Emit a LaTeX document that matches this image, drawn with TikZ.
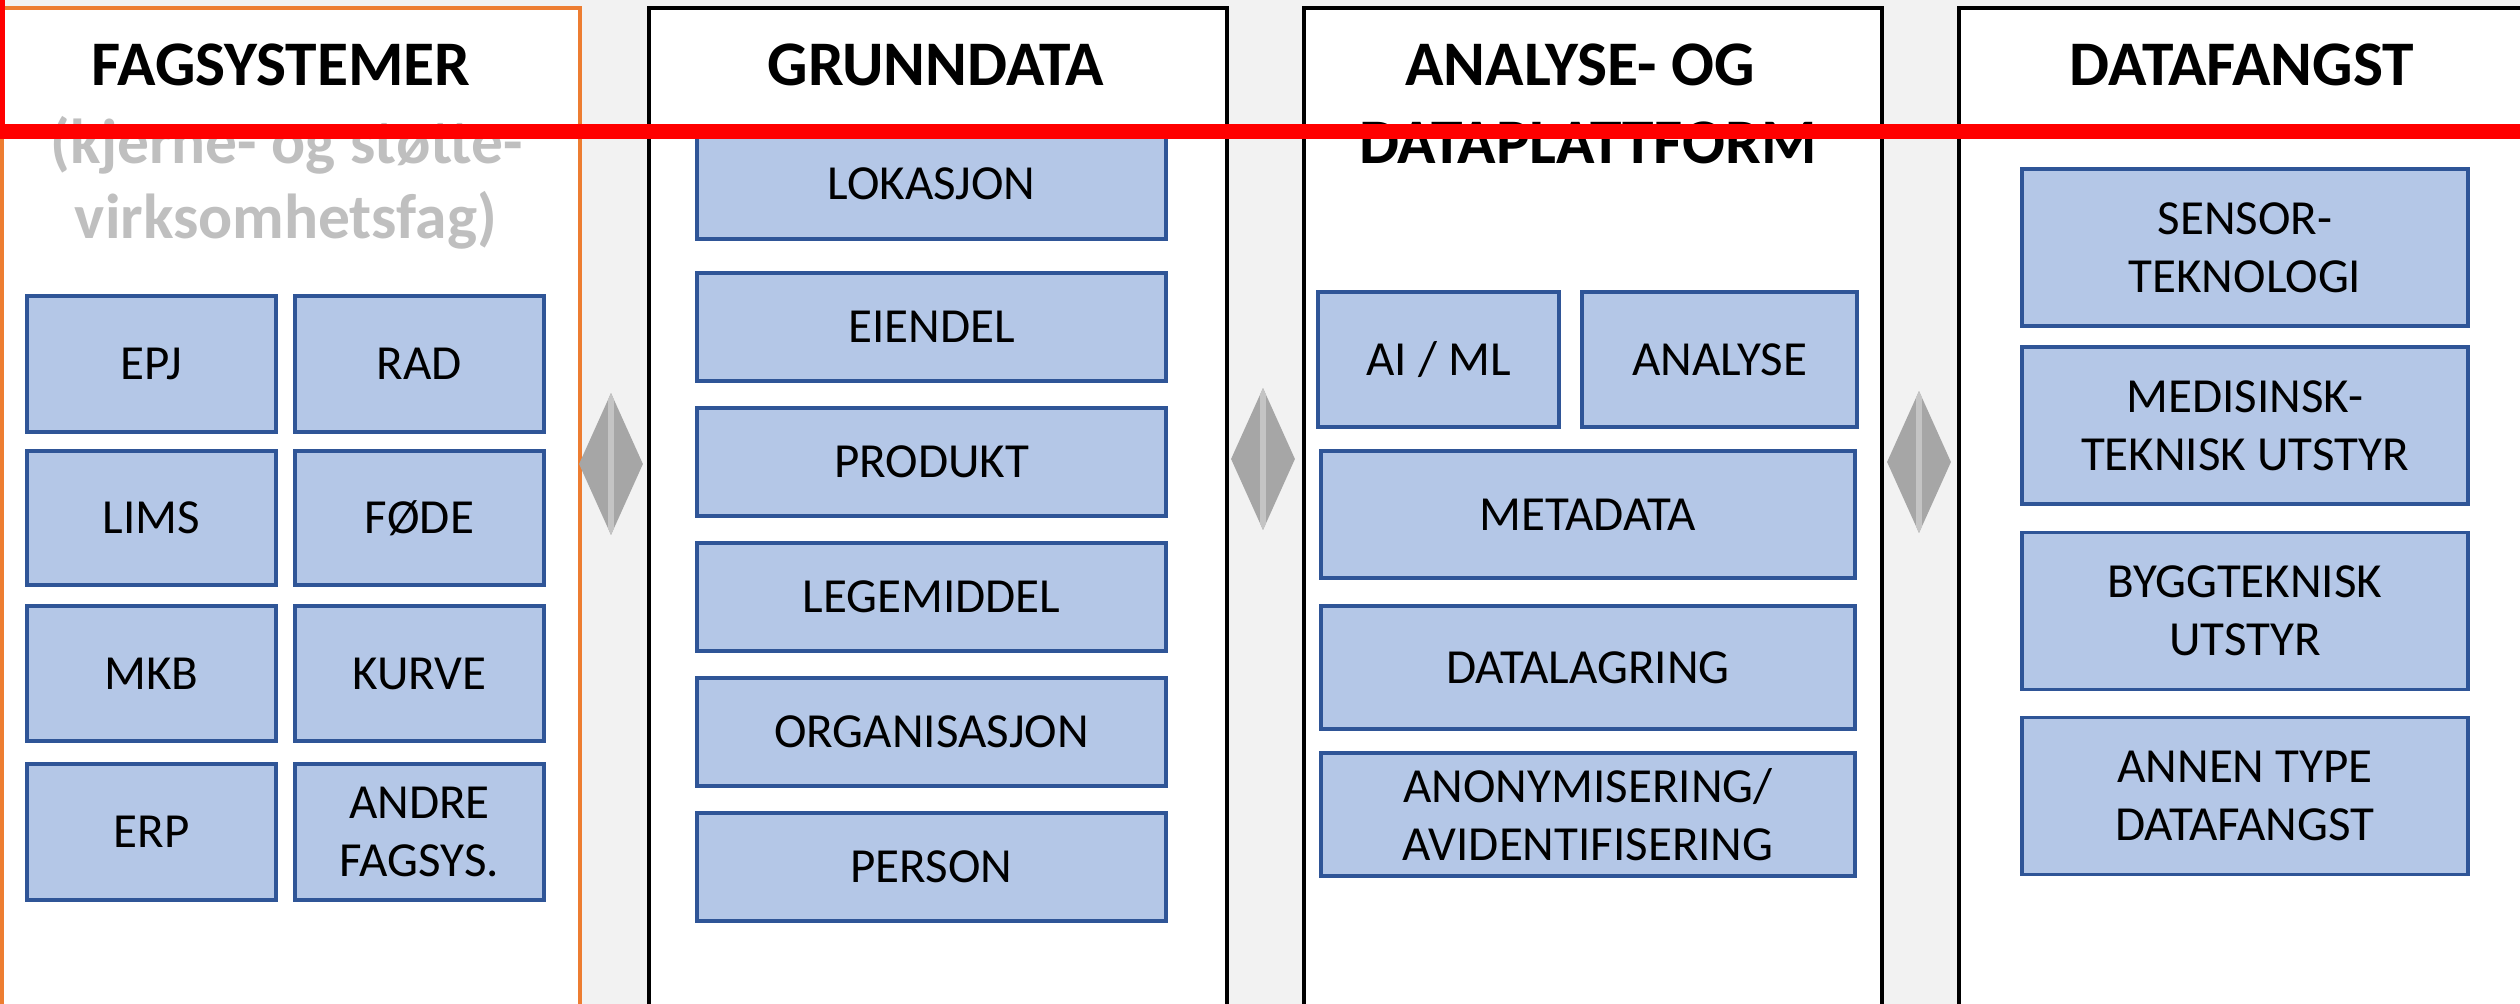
\documentclass[tikz,border=0pt]{standalone}
\usepackage{fontspec}
\setmainfont{Carlito}
\usetikzlibrary{shapes.geometric}
\definecolor{bgcol}{HTML}{F2F2F2}
\definecolor{orangecol}{HTML}{ED7D31}
\definecolor{boxfill}{HTML}{B4C7E7}
\definecolor{boxline}{HTML}{2F5597}
\definecolor{subgray}{HTML}{BFBFBF}
\definecolor{diagray}{HTML}{A6A6A6}
\definecolor{diastripe}{HTML}{C4C4C4}
\definecolor{markred}{HTML}{FF0000}
\tikzset{
  panel/.style={fill=white, line width=4pt, inner sep=0pt, anchor=north west, minimum height=1100pt},
  cell/.style={draw=boxline, fill=boxfill, line width=3.5pt, inner sep=0pt, align=center,
    font=\fontsize{49}{58}\selectfont, text=black},
  headtxt/.style={anchor=base, inner sep=0pt, font=\fontsize{63.5}{78}\selectfont\bfseries, text=black},
  subtxt/.style={headtxt, text=subgray},
  arrowdia/.style={diamond, fill=diagray, inner sep=0pt, minimum width=64pt, minimum height=142pt,
    path picture={\fill[diastripe] ([xshift=-3pt]path picture bounding box.north) rectangle ([xshift=3pt]path picture bounding box.south);}}
}
\begin{document}
\begin{tikzpicture}[x=1pt,y=-1pt]
\clip (0,0) rectangle (2520,1004);
\fill[bgcol] (0,0) rectangle (2520,1004);

% panels
\node[panel, draw=orangecol, minimum width=578pt] (p1) at (0,6) {};
\node[panel, draw=black, minimum width=578pt] (p2) at (647,6) {};
\node[panel, draw=black, minimum width=578pt] (p3) at (1302,6) {};
\node[panel, draw=black, minimum width=578pt] (p4) at (1957,6) {};

% diamonds
\node[arrowdia] (d1) at (611,464) {};
\node[arrowdia] (d2) at (1263,459) {};
\node[arrowdia] (d3) at (1919,462) {};

% headers
\node[headtxt] (h1) at (281,85) {FAGSYSTEMER};
\node[subtxt] (h1a) at (287,163) {(kjerne- og støtte-};
\node[subtxt] (h1b) at (286,238) {virksomhetsfag)};
\node[headtxt] (h2) at (936,85) {GRUNNDATA};
\node[headtxt] (h3a) at (1580,85) {ANALYSE- OG};
\node[headtxt] (h3b) at (1588,163) {DATAPLATTFORM};
\node[headtxt] (h4) at (2242,85) {DATAFANGST};

% panel 1 cells
\node[cell, minimum width=249pt, minimum height=136pt] (epj) at (151.5,364) {EPJ};
\node[cell, minimum width=249pt, minimum height=136pt] (rad) at (419.5,364) {RAD};
\node[cell, minimum width=249pt, minimum height=134pt] (lims) at (151.5,518) {LIMS};
\node[cell, minimum width=249pt, minimum height=134pt] (fode) at (419.5,518) {FØDE};
\node[cell, minimum width=249pt, minimum height=135pt] (mkb) at (151.5,673.5) {MKB};
\node[cell, minimum width=249pt, minimum height=135pt] (kurve) at (419.5,673.5) {KURVE};
\node[cell, minimum width=249pt, minimum height=136pt] (erp) at (151.5,832) {ERP};
\node[cell, minimum width=249pt, minimum height=136pt] (andre) at (419.5,832) {ANDRE\\FAGSYS.};

% panel 2 cells
\node[cell, minimum width=469pt, minimum height=110pt] (lok) at (931.5,184) {LOKASJON};
\node[cell, minimum width=469pt, minimum height=108pt] (eiendel) at (931.5,327) {EIENDEL};
\node[cell, minimum width=469pt, minimum height=108pt] (produkt) at (931.5,462) {PRODUKT};
\node[cell, minimum width=469pt, minimum height=108pt] (legem) at (931.5,597) {LEGEMIDDEL};
\node[cell, minimum width=469pt, minimum height=108pt] (org) at (931.5,732) {ORGANISASJON};
\node[cell, minimum width=469pt, minimum height=108pt] (person) at (931.5,867) {PERSON};

% panel 3 cells
\node[cell, minimum width=241pt, minimum height=135pt] (aiml) at (1438.5,359.5) {AI / ML};
\node[cell, minimum width=275pt, minimum height=135pt] (analyse) at (1719.5,359.5) {ANALYSE};
\node[cell, minimum width=534pt, minimum height=127pt] (meta) at (1588,514.5) {METADATA};
\node[cell, minimum width=534pt, minimum height=123pt] (lagring) at (1588,667.5) {DATALAGRING};
\node[cell, minimum width=534pt, minimum height=123pt] (anonym) at (1588,814.5) {ANONYMISERING/\\AVIDENTIFISERING};

% panel 4 cells
\node[cell, minimum width=446pt, minimum height=157pt] (sensor) at (2245,247.5) {SENSOR-\\TEKNOLOGI};
\node[cell, minimum width=446pt, minimum height=157pt] (medisinsk) at (2245,425.5) {MEDISINSK-\\TEKNISK UTSTYR};
\node[cell, minimum width=446pt, minimum height=157pt] (bygg) at (2245,611) {BYGGTEKNISK\\UTSTYR};
\node[cell, minimum width=446pt, minimum height=157pt] (annen) at (2245,796) {ANNEN TYPE\\DATAFANGST};

% red marker
\fill[markred] (0,0) rectangle (5,139);
\fill[markred] (0,124) rectangle (2520,139);
\end{tikzpicture}
\end{document}
